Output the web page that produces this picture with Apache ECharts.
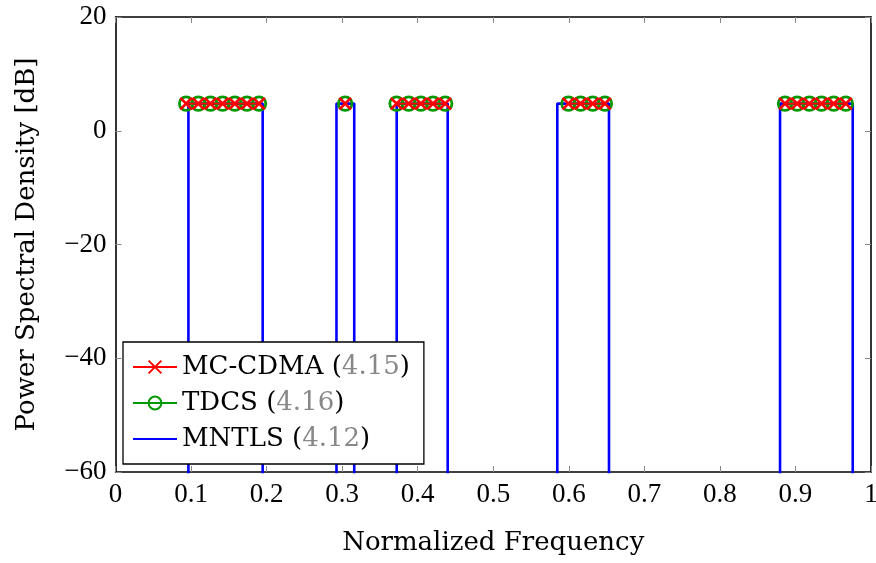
<!DOCTYPE html>
<html>
<head>
<meta charset="utf-8">
<script src="https://cdn.jsdelivr.net/npm/echarts@6/dist/echarts.min.js"></script>
<style>
  html, body { margin: 0; padding: 0; background: #fff; overflow: hidden; }
  #chart { width: 876px; height: 563px; }
</style>
</head>
<body>
<div id="chart"></div>
<script>
// Occupied bands of the MNTLS spectrum (normalized frequency edges)
const mntlsBands = [
  [0.0965, 0.1948],
  [0.2925, 0.3160],
  [0.3722, 0.4397],
  [0.5848, 0.6532],
  [0.8796, 0.9758]
];
// In-band PSD level (dB) and the out-of-band floor (far below the axis)
const inBandLevel = 4.77;
const outOfBandLevel = -100;

// Subcarrier frequencies used by MC-CDMA / TDCS, one list per band
const subcarrierGroups = [
  [0.0935, 0.1096, 0.1257, 0.1418, 0.1579, 0.1740, 0.1900],
  [0.3040],
  [0.3720, 0.3881, 0.4042, 0.4203, 0.4364],
  [0.5995, 0.6156, 0.6317, 0.6478],
  [0.8862, 0.9023, 0.9184, 0.9345, 0.9506, 0.9667]
];
const mcCdmaLevel = 4.77;
const tdcsLevel = 4.77;

// Legend entries: name and equation reference
const seriesNames = ['MC-CDMA', 'TDCS', 'MNTLS'];
const eqRefs = ['4.15', '4.16', '4.12'];

const NUM_FONT = 'Liberation Serif';
const TEXT_FONT = 'DejaVu Serif';

function markerData(level) {
  const out = [];
  subcarrierGroups.forEach((g, i) => {
    if (i > 0) out.push(['-', '-']);
    g.forEach(f => out.push([f, level]));
  });
  return out;
}

function mntlsData() {
  const out = [];
  mntlsBands.forEach(([a, b]) => {
    out.push([a, outOfBandLevel], [a, inBandLevel], [b, inBandLevel], [b, outOfBandLevel]);
  });
  return out;
}

const crossPath = 'path://M0,0L10,10M10,0L0,10';

const frameAxis = {
  axisLine: { show: true, onZero: false, lineStyle: { color: '#000', width: 1.6 } },
  axisTick: { show: true, inside: true, length: 6, lineStyle: { color: '#888', width: 1 } },
  splitLine: { show: false }
};

const chart = echarts.init(document.getElementById('chart'), null, { renderer: 'canvas', width: 876, height: 563 });
chart.setOption({
  animation: false,
  backgroundColor: '#fff',
  textStyle: { fontFamily: NUM_FONT },
  grid: {
    left: 115.5, top: 17, width: 755.5, height: 455,
    containLabel: false, outerBoundsMode: 'none'
  },
  xAxis: [
    Object.assign({
      type: 'value', position: 'bottom', min: 0, max: 1, interval: 0.1,
      name: 'Normalized Frequency', nameLocation: 'middle', nameGap: 58,
      nameTextStyle: { fontFamily: TEXT_FONT, fontSize: 26, color: '#000' },
      axisLabel: {
        margin: 9, fontFamily: NUM_FONT, fontSize: 27, color: '#000',
        formatter: v => String(+v.toFixed(1))
      }
    }, frameAxis),
    Object.assign({
      type: 'value', position: 'top', min: 0, max: 1, interval: 0.1,
      axisLabel: { show: false }
    }, frameAxis)
  ],
  yAxis: [
    Object.assign({
      type: 'value', position: 'left', min: -60, max: 20, interval: 20,
      name: 'Power Spectral Density [dB]', nameLocation: 'middle', nameGap: 75,
      nameTextStyle: { fontFamily: TEXT_FONT, fontSize: 26, color: '#000' },
      axisLabel: {
        margin: 9, fontFamily: NUM_FONT, fontSize: 27, color: '#000',
        formatter: v => (v < 0 ? '\u2212' + Math.abs(v) : String(v))
      }
    }, frameAxis),
    Object.assign({
      type: 'value', position: 'right', min: -60, max: 20, interval: 20,
      axisLabel: { show: false }
    }, frameAxis)
  ],
  legend: {
    orient: 'vertical',
    left: 123, top: 342,
    padding: [12, 14, 12, 9],
    itemGap: 10,
    itemWidth: 44, itemHeight: 16,
    backgroundColor: '#fff',
    borderColor: '#000', borderWidth: 1.3,
    data: [
      { name: seriesNames[0] },
      { name: seriesNames[1] },
      { name: seriesNames[2], itemStyle: { opacity: 0 } }
    ],
    formatter: name => {
      const i = seriesNames.indexOf(name);
      return '{t|' + name + ' (}{r|' + eqRefs[i] + '}{t|)}';
    },
    textStyle: {
      fontFamily: TEXT_FONT, fontSize: 26,
      rich: {
        t: { fontFamily: TEXT_FONT, fontSize: 26, color: '#000', lineHeight: 27 },
        r: { fontFamily: TEXT_FONT, fontSize: 26, color: '#888', lineHeight: 27 }
      }
    }
  },
  series: [
    {
      name: 'MNTLS', type: 'line', xAxisIndex: 0, yAxisIndex: 0,
      data: mntlsData(), symbol: 'none', clip: true, z: 2,
      lineStyle: { color: '#0000ff', width: 2.6 },
      itemStyle: { color: '#0000ff' }
    },
    {
      name: 'TDCS', type: 'line', xAxisIndex: 0, yAxisIndex: 0,
      data: markerData(tdcsLevel), symbol: 'circle', symbolSize: 13.5, z: 3,
      connectNulls: false,
      lineStyle: { color: '#009900', width: 1.8 },
      itemStyle: { color: 'rgba(0,0,0,0)', borderColor: '#009900', borderWidth: 2.8 }
    },
    {
      name: 'MC-CDMA', type: 'line', xAxisIndex: 0, yAxisIndex: 0,
      data: markerData(mcCdmaLevel), symbol: crossPath, symbolSize: 11.5, z: 4,
      connectNulls: false,
      lineStyle: { color: '#ff0000', width: 1.8 },
      itemStyle: { color: '#ff0000', borderColor: '#ff0000', borderWidth: 2.8 }
    }
  ]
});
</script>
</body>
</html>
